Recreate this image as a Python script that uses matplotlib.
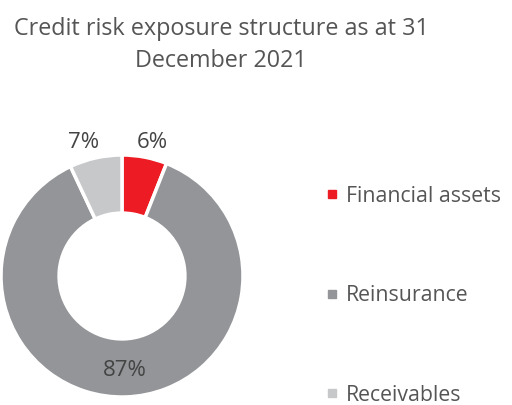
import matplotlib
matplotlib.use("Agg")
from matplotlib import pyplot as plt
from matplotlib.lines import Line2D

plt.rcParams['font.family'] = ['Open Sans', 'DejaVu Sans']

labels = ["Financial assets", "Reinsurance", "Receivables"]
shares = [6, 87, 7]
colors = ["#ED1C24", "#939598", "#C7C8CA"]
TXT = "#555555"
PCT = "#444444"

W, H = 512, 405
fig = plt.figure(figsize=(W / 100, H / 100), dpi=100)

# donut axes: centre at (122, 276) px from top-left, radius 121 px
R = 121
cx, cy = 122, H - 276
ax = fig.add_axes([(cx - R) / W, (cy - R) / H, 2 * R / W, 2 * R / H])

wedges, _ = ax.pie(shares, colors=colors, startangle=90, counterclock=False,
                   radius=1.0, wedgeprops=dict(width=0.48, edgecolor='white', linewidth=2.5))
# pie() resets the limits, so set them afterwards
ax.set_xlim(-1, 1)
ax.set_ylim(-1, 1)
ax.set_aspect('equal')
ax.axis('off')

# percentage labels
pos = [(0.25, 1.1), (0.02, -0.78), (-0.32, 1.1)]
for v, (x, y) in zip(shares, pos):
	ax.text(x, y, f"{v}%", ha='center', va='center', fontsize=16, color=PCT)

fig.text(221 / W, 1 - 45 / H, "Credit risk exposure structure as at 31\nDecember 2021",
         ha='center', va='center', fontsize=16.8, color=TXT, linespacing=1.4)

handles = [Line2D([], [], marker='s', linestyle='none', markersize=6, color=c) for c in colors]
fig.legend(handles, labels, loc='upper left', bbox_to_anchor=(316 / W, 1 - 175 / H),
           frameon=False, fontsize=15.3, labelcolor=TXT, handlelength=0.5, handletextpad=0.4,
           labelspacing=3.7, borderpad=0)

fig.savefig("out.png", dpi=100)
